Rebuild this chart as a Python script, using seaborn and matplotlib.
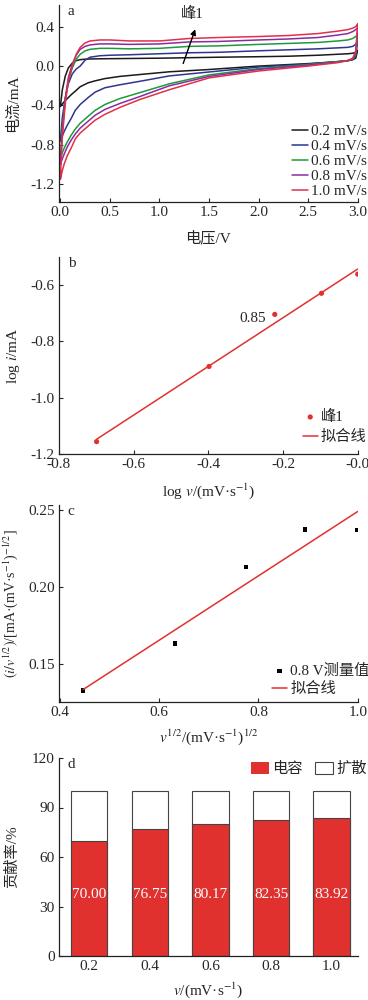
import numpy as np
import pandas as pd
import matplotlib
matplotlib.use("Agg")
import matplotlib.pyplot as plt
from matplotlib.patches import Patch
from matplotlib.ticker import FormatStrFormatter
import seaborn as sns

sns.set_style("ticks")
plt.rcParams['font.family'] = ['Liberation Serif', 'Noto Sans CJK SC']
plt.rcParams['mathtext.fontset'] = 'stix'
plt.rcParams['axes.unicode_minus'] = False
FS = 11
plt.rcParams['font.size'] = FS

# ---- (a) CV curves ----
rates = ['0.2 mV/s', '0.4 mV/s', '0.6 mV/s', '0.8 mV/s', '1.0 mV/s']
cv_colors = ['#1a1a1a', '#2e3590', '#1e9a3c', '#8c2c9c', '#e0304c']

v_up = [0.0, 0.02, 0.05, 0.08, 0.12, 0.16, 0.2, 0.25, 0.3, 0.4, 0.5, 0.7, 1.0,
        1.3, 1.6, 2.0, 2.3, 2.6, 2.8, 2.9, 2.95, 2.98, 3.0]
v_lo = [3.0, 2.98, 2.95, 2.9, 2.8, 2.5, 2.0, 1.5, 1.1, 0.8, 0.6, 0.45, 0.35,
        0.28, 0.2, 0.15, 0.11, 0.07, 0.04, 0.02, 0.0]

i_up_02 = [-0.41, -0.24, -0.10, -0.02, 0.03, 0.055, 0.065, 0.07, 0.072, 0.074, 0.075, 0.077,
           0.08, 0.085, 0.09, 0.095, 0.10, 0.11, 0.12, 0.125, 0.13, 0.14, 0.16]
i_up_04 = [-0.76, -0.52, -0.32, -0.18, -0.08, -0.03, 0.0, 0.06, 0.09, 0.105, 0.11, 0.115,
           0.125, 0.135, 0.14, 0.155, 0.165, 0.175, 0.185, 0.19, 0.2, 0.22, 0.25]
i_up_06 = [-0.94, -0.62, -0.33, -0.15, -0.02, 0.07, 0.12, 0.155, 0.17, 0.18, 0.18, 0.175,
           0.18, 0.2, 0.205, 0.22, 0.23, 0.24, 0.255, 0.265, 0.28, 0.3, 0.32]
i_up_08 = [-1.0, -0.66, -0.33, -0.12, 0.02, 0.11, 0.17, 0.2, 0.215, 0.225, 0.225, 0.22,
           0.225, 0.245, 0.25, 0.265, 0.275, 0.29, 0.315, 0.33, 0.35, 0.37, 0.39]
i_up_10 = [-1.15, -0.72, -0.38, -0.15, 0.0, 0.12, 0.19, 0.235, 0.255, 0.265, 0.265, 0.255,
           0.255, 0.28, 0.29, 0.3, 0.31, 0.33, 0.355, 0.37, 0.385, 0.40, 0.43]

i_lo_02 = [0.16, 0.08, 0.065, 0.055, 0.045, 0.025, 0.0, -0.035, -0.058, -0.086, -0.105,
           -0.127, -0.15, -0.17, -0.21, -0.255, -0.29, -0.33, -0.36, -0.385, -0.41]
i_lo_04 = [0.25, 0.10, 0.065, 0.055, 0.045, 0.02, -0.01, -0.06, -0.10, -0.155, -0.19,
           -0.22, -0.265, -0.32, -0.39, -0.45, -0.53, -0.60, -0.66, -0.71, -0.76]
i_lo_06 = [0.32, 0.12, 0.07, 0.055, 0.045, 0.015, -0.025, -0.09, -0.18, -0.27, -0.33,
           -0.39, -0.45, -0.51, -0.58, -0.64, -0.70, -0.77, -0.83, -0.88, -0.94]
i_lo_08 = [0.39, 0.13, 0.075, 0.055, 0.04, 0.01, -0.035, -0.105, -0.20, -0.31, -0.38,
           -0.44, -0.50, -0.56, -0.63, -0.69, -0.75, -0.82, -0.89, -0.94, -1.0]
i_lo_10 = [0.43, 0.15, 0.08, 0.055, 0.035, 0.0, -0.05, -0.12, -0.24, -0.34, -0.42,
           -0.49, -0.55, -0.61, -0.68, -0.74, -0.83, -0.91, -0.99, -1.06, -1.15]

i_up = [i_up_02, i_up_04, i_up_06, i_up_08, i_up_10]
i_lo = [i_lo_02, i_lo_04, i_lo_06, i_lo_08, i_lo_10]

# ---- (b) log i vs log v ----
log_v = [-0.699, -0.398, -0.222, -0.097, 0.0]
log_i = [-1.156, -0.889, -0.704, -0.629, -0.561]

# ---- (c) i/v^1/2 vs v^1/2 at 0.8 V ----
sqrt_v = [0.447, 0.632, 0.775, 0.894, 1.0]
i_sqrt = [0.133, 0.1634, 0.2128, 0.2372, 0.2368]

# ---- (d) contribution ----
scan = ['0.2', '0.4', '0.6', '0.8', '1.0']
cap = [70.00, 76.75, 80.17, 82.35, 83.92]
total = [100, 100, 100, 100, 100]

red = '#e0312f'

fig = plt.figure(figsize=(3.68, 10), dpi=100)
L, W = 0.160, 0.812
ax_a = fig.add_axes([L, 0.798, W, 0.197])
ax_b = fig.add_axes([L, 0.546, W, 0.197])
ax_c = fig.add_axes([L, 0.298, W, 0.197])
ax_d = fig.add_axes([L, 0.044, W, 0.198])

for ax in (ax_a, ax_b, ax_c, ax_d):
    sns.despine(ax=ax)
    ax.tick_params(direction='in', length=3, width=0.8, labelsize=FS, pad=3)
    for s in ('left', 'bottom'):
        ax.spines[s].set_linewidth(0.9)
        ax.spines[s].set_color('#222222')

leg_kw = dict(frameon=False, fontsize=FS, handlelength=1.0, handletextpad=0.2,
              borderpad=0, borderaxespad=0)

# panel a
rows = []
for r, up, lo in zip(rates, i_up, i_lo):
    rows += [(r, v, i) for v, i in zip(v_up, up)]
    rows += [(r, v, i) for v, i in zip(v_lo, lo)]
cv = pd.DataFrame(rows, columns=['rate', 'V', 'I'])
sns.lineplot(data=cv, x='V', y='I', hue='rate', palette=cv_colors, sort=False,
             estimator=None, lw=1.1, ax=ax_a)
ax_a.set_xlim(-0.015, 3.0)
ax_a.set_ylim(-1.38, 0.62)
ax_a.set_xticks(np.arange(0, 3.01, 0.5))
ax_a.set_yticks([-1.2, -0.8, -0.4, 0.0, 0.4])
ax_a.xaxis.set_major_formatter(FormatStrFormatter('%.1f'))
ax_a.yaxis.set_major_formatter(FormatStrFormatter('%.1f'))
ax_a.set_xlabel('电压/V', fontsize=FS, labelpad=8)
ax_a.set_ylabel('电流/mA', fontsize=FS, labelpad=8)
ax_a.legend(loc='lower right', bbox_to_anchor=(1.03, 0.02), labelspacing=0.08, **leg_kw)
ax_a.annotate('', xy=(1.37, 0.40), xytext=(1.23, 0.0),
              arrowprops=dict(arrowstyle='-|>', color='k', lw=1, mutation_scale=8))
ax_a.text(1.33, 0.53, '峰1', ha='center', va='center', fontsize=FS)
ax_a.text(0.03, 1.0, 'a', transform=ax_a.transAxes, ha='left', va='top', fontsize=FS)

# panel b
sns.scatterplot(x=log_v, y=log_i, color=red, s=14, edgecolor='none', label='峰1', ax=ax_b)
sns.regplot(x=log_v, y=log_i, scatter=False, ci=None, color=red, label='拟合线',
            line_kws=dict(lw=1.1), ax=ax_b)
ax_b.set_xlim(-0.8, 0.0)
ax_b.set_ylim(-1.2, -0.5)
ax_b.set_xticks(np.arange(-0.8, 0.01, 0.2))
ax_b.set_yticks([-1.2, -1.0, -0.8, -0.6])
ax_b.xaxis.set_major_formatter(FormatStrFormatter('%.1f'))
ax_b.yaxis.set_major_formatter(FormatStrFormatter('%.1f'))
ax_b.set_xlabel('log $v$/(mV·s$^{-1}$)', fontsize=FS, labelpad=7)
ax_b.set_ylabel('log $i$/mA', fontsize=FS, labelpad=6)
ax_b.text(-0.245, -0.72, '0.85', ha='right', va='center', fontsize=FS)
ax_b.legend(loc='lower right', bbox_to_anchor=(1.03, 0.05), labelspacing=0.4, **leg_kw)
ax_b.text(0.03, 1.0, 'b', transform=ax_b.transAxes, ha='left', va='top', fontsize=FS)

# panel c
sns.scatterplot(x=sqrt_v, y=i_sqrt, color='k', marker='s', s=10, edgecolor='none',
                label='0.8 V测量值', ax=ax_c)
sns.regplot(x=sqrt_v, y=i_sqrt, scatter=False, ci=None, color=red, label='拟合线',
            line_kws=dict(lw=1.1), ax=ax_c)
ax_c.set_xlim(0.398, 1.0)
ax_c.set_ylim(0.1255, 0.253)
ax_c.set_xticks([0.4, 0.6, 0.8, 1.0])
ax_c.set_yticks([0.15, 0.20, 0.25])
ax_c.xaxis.set_major_formatter(FormatStrFormatter('%.1f'))
ax_c.yaxis.set_major_formatter(FormatStrFormatter('%.2f'))
ax_c.set_xlabel('$v^{1/2}$/(mV·s$^{-1}$)$^{1/2}$', fontsize=FS, labelpad=6)
ax_c.set_ylabel('$(i/v^{1/2})$/[mA·(mV·s$^{-1}$)$^{-1/2}$]', fontsize=10, labelpad=6)
ax_c.legend(loc='lower right', bbox_to_anchor=(1.04, 0.03), labelspacing=0.25, **leg_kw)
ax_c.text(0.03, 1.0, 'c', transform=ax_c.transAxes, ha='left', va='top', fontsize=FS)

# panel d
sns.barplot(x=scan, y=total, color='white', edgecolor='#444444', linewidth=0.8,
            width=0.6, ax=ax_d)
sns.barplot(x=scan, y=cap, color=red, edgecolor='#444444', linewidth=0.8,
            saturation=1, width=0.6, ax=ax_d)
for i, c in enumerate(cap):
    ax_d.text(i, 37.5, f'{c:.2f}', color='white', ha='center', va='center', fontsize=FS)
ax_d.set_xlim(-0.5, 4.43)
ax_d.set_ylim(0, 120)
ax_d.set_yticks([0, 30, 60, 90, 120])
ax_d.set_xlabel('$v$/(mV·s$^{-1}$)', fontsize=FS, labelpad=5)
ax_d.set_ylabel('贡献率/%', fontsize=FS, labelpad=9)
ax_d.legend(handles=[Patch(facecolor=red, edgecolor='none', label='电容'),
                     Patch(facecolor='white', edgecolor='#444444', lw=0.8, label='扩散')],
            loc='upper right', bbox_to_anchor=(1.03, 0.98), ncol=2, frameon=False, fontsize=FS,
            handlelength=1.2, handleheight=0.8, handletextpad=0.2, columnspacing=0.8,
            borderpad=0, borderaxespad=0)
ax_d.text(0.03, 1.0, 'd', transform=ax_d.transAxes, ha='left', va='top', fontsize=FS)

fig.savefig('out.png', dpi=100)
